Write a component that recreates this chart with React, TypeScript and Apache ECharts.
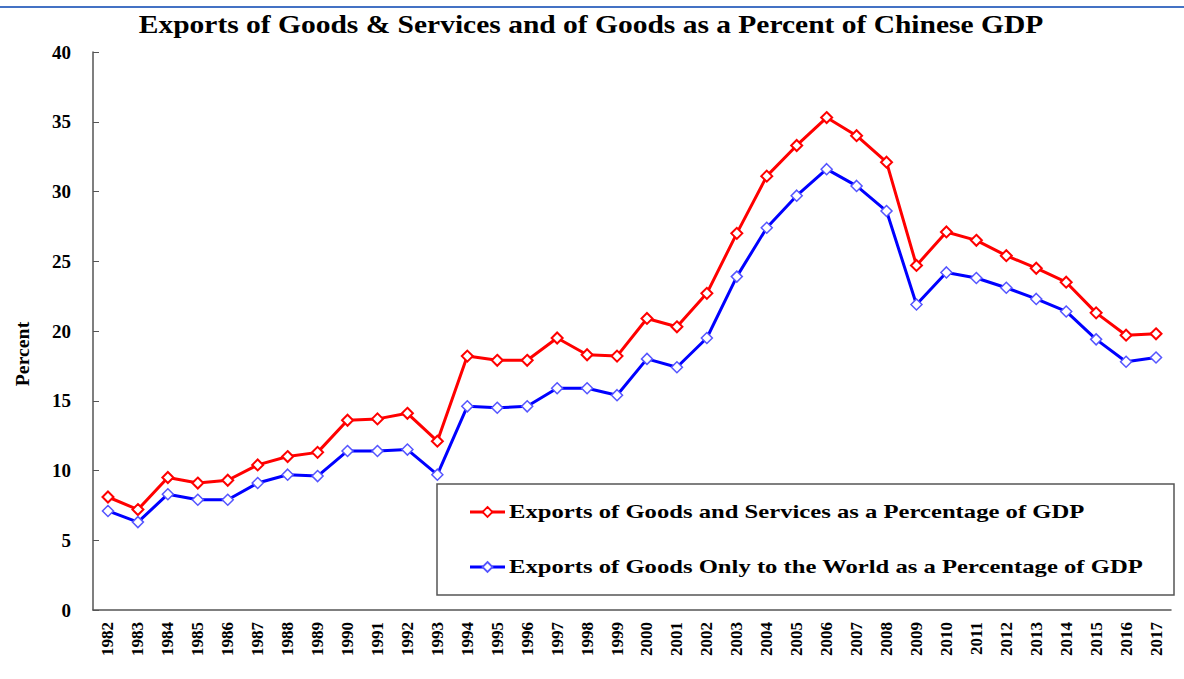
import React, { useEffect, useRef } from "react";
import * as echarts from "echarts";

const years = [
  "1982", "1983", "1984", "1985", "1986", "1987", "1988", "1989", "1990", "1991",
  "1992", "1993", "1994", "1995", "1996", "1997", "1998", "1999", "2000", "2001",
  "2002", "2003", "2004", "2005", "2006", "2007", "2008", "2009", "2010", "2011",
  "2012", "2013", "2014", "2015", "2016", "2017",
];

const goodsAndServices = [
  8.1, 7.2, 9.5, 9.1, 9.3, 10.4, 11.0, 11.3, 13.6, 13.7,
  14.1, 12.1, 18.2, 17.9, 17.9, 19.5, 18.3, 18.2, 20.9, 20.3,
  22.7, 27.0, 31.1, 33.3, 35.3, 34.0, 32.1, 24.7, 27.1, 26.5,
  25.4, 24.5, 23.5, 21.3, 19.7, 19.8,
];

const goodsOnly = [
  7.1, 6.3, 8.3, 7.9, 7.9, 9.1, 9.7, 9.6, 11.4, 11.4,
  11.5, 9.7, 14.6, 14.5, 14.6, 15.9, 15.9, 15.4, 18.0, 17.4,
  19.5, 23.9, 27.4, 29.7, 31.6, 30.4, 28.6, 21.9, 24.2, 23.8,
  23.1, 22.3, 21.4, 19.4, 17.8, 18.1,
];

const yTicks = { min: 0, max: 40, interval: 5 };

const titleText = "Exports of Goods & Services and of Goods as a Percent of Chinese GDP";
const seriesNames = [
  "Exports of Goods and Services as a Percentage of GDP",
  "Exports of Goods Only to the World as a Percentage of GDP",
];
const seriesColors = ["#FF0000", "#0000FF"];
const markerBorders = ["#FF0000", "#5555FF"];

const FONT = "'Liberation Serif', 'Times New Roman', serif";

function legendEntry(i: number, y: number) {
  const c = seriesColors[i];
  return [
    {
      type: "line",
      shape: { x1: 470, y1: y, x2: 505, y2: y },
      style: { stroke: c, lineWidth: 3 },
      z: 5,
    },
    {
      type: "polygon",
      shape: { points: [[487.5, y - 5], [492.5, y], [487.5, y + 5], [482.5, y]] },
      style: { fill: "#fff", stroke: markerBorders[i], lineWidth: 1.8 },
      z: 6,
    },
    {
      type: "text",
      x: 509,
      y: y,
      scaleX: 1.37,
      style: {
        text: seriesNames[i],
        fontFamily: FONT,
        fontSize: 18,
        fontWeight: "bold",
        fill: "#000",
        align: "left",
        verticalAlign: "middle",
      },
      z: 6,
    },
  ];
}

export default function App() {
  const ref = useRef<HTMLDivElement>(null);
  useEffect(() => {
    if (!ref.current) return;
    const chart = echarts.init(ref.current, undefined, { renderer: "svg" });
    chart.setOption({
      animation: false,
      backgroundColor: "#ffffff",
      textStyle: { fontFamily: FONT },
      grid: { left: 93, right: 13, top: 52, bottom: 69, containLabel: false },
      legend: { show: false, data: seriesNames },
      graphic: [
        {
          type: "line",
          shape: { x1: 0, y1: 7, x2: 1184, y2: 7 },
          style: { stroke: "#4472C4", lineWidth: 2 },
        },
        {
          type: "text",
          x: 591,
          y: 25,
          scaleX: 1.18,
          style: {
            text: titleText,
            fontFamily: FONT,
            fontSize: 25,
            fontWeight: "bold",
            fill: "#000",
            align: "center",
            verticalAlign: "middle",
          },
        },
        {
          type: "rect",
          shape: { x: 437, y: 484, width: 737, height: 111 },
          style: { fill: "#fff", stroke: "#555", lineWidth: 1.5 },
          z: 4,
        },
        ...legendEntry(0, 512),
        ...legendEntry(1, 567),
        {
          type: "text",
          x: 23,
          y: 354,
          rotation: Math.PI / 2,
          scaleX: 1.1,
          style: {
            text: "Percent",
            fontFamily: FONT,
            fontSize: 18,
            fontWeight: "bold",
            fill: "#000",
            align: "center",
            verticalAlign: "middle",
          },
        },
      ],
      xAxis: {
        type: "category",
        data: years,
        boundaryGap: true,
        axisLine: { lineStyle: { color: "#555", width: 1.5 } },
        axisTick: { inside: true, length: 6, alignWithLabel: false, lineStyle: { color: "#555" } },
        axisLabel: {
          rotate: 90,
          interval: 0,
          margin: 12,
          fontFamily: FONT,
          fontSize: 17,
          fontWeight: "bold",
          color: "#000",
        },
        splitLine: { show: false },
      },
      yAxis: {
        type: "value",
        min: yTicks.min,
        max: yTicks.max,
        interval: yTicks.interval,
        axisLine: { show: true, lineStyle: { color: "#555", width: 1.5 } },
        axisTick: { show: true, inside: true, length: 6, lineStyle: { color: "#555" } },
        axisLabel: {
          margin: 22,
          fontFamily: FONT,
          fontSize: 19,
          fontWeight: "bold",
          color: "#000",
        },
        splitLine: { show: false },
      },
      series: [
        {
          name: seriesNames[0],
          type: "line",
          data: goodsAndServices,
          symbol: "diamond",
          symbolSize: 11,
          color: seriesColors[0],
          lineStyle: { color: seriesColors[0], width: 3 },
          itemStyle: { color: "#fff", borderColor: markerBorders[0], borderWidth: 2 },
          z: 3,
        },
        {
          name: seriesNames[1],
          type: "line",
          data: goodsOnly,
          symbol: "diamond",
          symbolSize: 11,
          color: seriesColors[1],
          lineStyle: { color: seriesColors[1], width: 3 },
          itemStyle: { color: "#fff", borderColor: markerBorders[1], borderWidth: 1.5 },
          z: 3,
        },
      ],
    });
    return () => chart.dispose();
  }, []);
  return <div ref={ref} style={{ width: 1184, height: 679, position: "absolute", left: 0, top: 0 }} />;
}
